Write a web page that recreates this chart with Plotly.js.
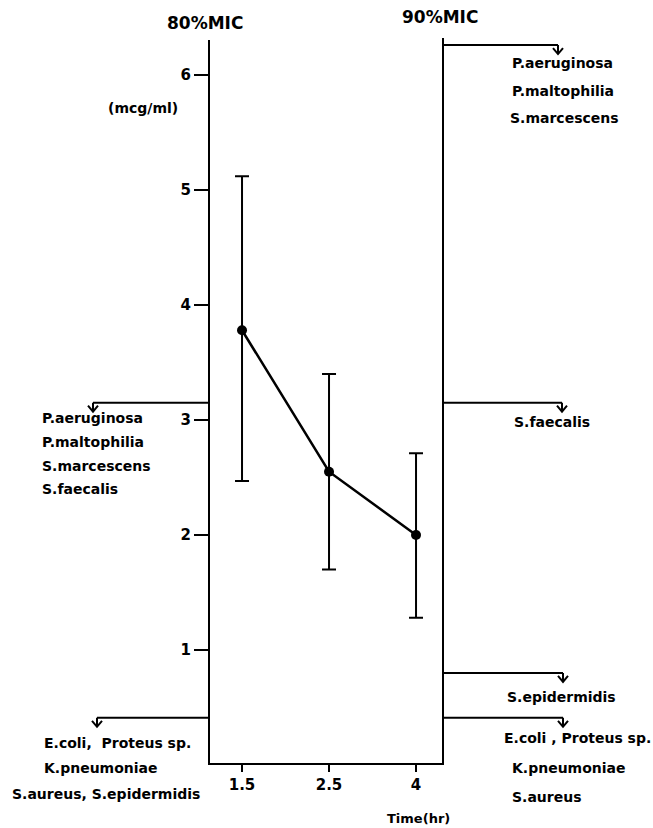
<!DOCTYPE html>
<html>
<head>
<meta charset="utf-8">
<script src="https://cdn.plot.ly/plotly-3.0.1.min.js"></script>
<style>html,body{margin:0;padding:0;background:#fff;}#chart{width:653px;height:828px;}</style>
</head>
<body>
<div id="chart"></div>
<script>
// ---- data ----
const times = ['1.5', '2.5', '4'];
const conc = [3.78, 2.55, 2.00];
const errTop = [5.12, 3.40, 2.71];
const errBottom = [2.47, 1.70, 1.28];
const yTicks = [1, 2, 3, 4, 5, 6];

const leftLevels = [3.15, 0.41];
const leftGroups = [
  ['P.aeruginosa', 'P.maltophilia', 'S.marcescens', 'S.faecalis'],
  ['E.coli,  Proteus sp.', 'K.pneumoniae', 'S.aureus, S.epidermidis']
];
const rightLevels = [6.26, 3.15, 0.80, 0.41];
const rightGroups = [
  ['P.aeruginosa', 'P.maltophilia', 'S.marcescens'],
  ['S.faecalis'],
  ['S.epidermidis'],
  ['E.coli , Proteus sp.', 'K.pneumoniae', 'S.aureus']
];

// ---- layout helpers ----
const W = 653, H = 828;
const mL = 210, mR = 210, mT = 40, mB = 65;
const pw = W - mL - mR, ph = H - mT - mB;
const yMin = 0.017, yMax = 6.304;
const FONT = 'DejaVu Sans';
const px2x = px => (px - mL) / pw;
const py2y = py => (H - mB - py) / ph;
const v2y = v => (v - yMin) / (yMax - yMin);
const v2py = v => (H - mB) - v2y(v) * ph;

// text placement (pixels): per group, arrow x, and lines [x, y]
const leftArrowX = [93, 97];
const leftTextPos = [
  [[40, 418], [40, 442], [40, 466], [40, 489]],
  [[42, 743], [42, 768], [10, 794]]
];
const rightArrowX = [558, 562, 563, 563];
const rightTextPos = [
  [[510, 63], [510, 91], [508, 118]],
  [[512, 422]],
  [[505, 697]],
  [[502, 738], [510, 768], [510, 797]]
];

const shapes = [];
const annotations = [];

function addLevel(level, axisPx, arrowPx) {
  const yl = v2py(level);
  shapes.push({type: 'line', xref: 'paper', yref: 'paper',
    x0: px2x(axisPx), x1: px2x(arrowPx), y0: py2y(yl), y1: py2y(yl),
    line: {color: '#000', width: 2}});
  const p = (x, y) => px2x(x) + ',' + py2y(y);
  shapes.push({type: 'path', xref: 'paper', yref: 'paper',
    path: 'M' + p(arrowPx, yl) + 'L' + p(arrowPx, yl + 9) +
          'M' + p(arrowPx - 5, yl + 3) + 'L' + p(arrowPx, yl + 9) + 'L' + p(arrowPx + 5, yl + 3),
    line: {color: '#000', width: 2}});
}
function addText(txt, x, y, size) {
  annotations.push({text: txt, xref: 'paper', yref: 'paper', x: px2x(x), y: py2y(y),
    xanchor: 'left', yanchor: 'middle', showarrow: false,
    font: {family: FONT, size: size || 14, color: '#000', weight: 'bold'}});
}

leftLevels.forEach((lv, i) => {
  addLevel(lv, mL, leftArrowX[i]);
  leftGroups[i].forEach((t, j) => addText(t, leftTextPos[i][j][0], leftTextPos[i][j][1]));
});
rightLevels.forEach((lv, i) => {
  addLevel(lv, mL + pw, rightArrowX[i]);
  rightGroups[i].forEach((t, j) => addText(t, rightTextPos[i][j][0], rightTextPos[i][j][1]));
});

// right vertical border
shapes.push({type: 'line', xref: 'paper', yref: 'paper', x0: 1, x1: 1, y0: py2y(765), y1: py2y(38),
  line: {color: '#000', width: 2}});

function centerText(txt, x, y, size) {
  annotations.push({text: txt, xref: 'paper', yref: 'paper', x: px2x(x), y: py2y(y),
    xanchor: 'center', yanchor: 'middle', showarrow: false,
    font: {family: FONT, size: size, color: '#000', weight: 'bold'}});
}
centerText('80%MIC', 205, 23, 17);
centerText('90%MIC', 440, 17, 17);
centerText('(mcg/ml)', 143, 108, 14);
centerText('Time(hr)', 418, 818, 13);

const trace = {
  x: times, y: conc, type: 'scatter', mode: 'lines+markers',
  line: {color: '#000', width: 2.5},
  marker: {color: '#000', size: 10},
  error_y: {type: 'data', symmetric: false,
    array: errTop.map((t, i) => t - conc[i]),
    arrayminus: conc.map((c, i) => c - errBottom[i]),
    color: '#000', thickness: 2, width: 7},
  cliponaxis: false
};

const layout = {
  width: W, height: H,
  margin: {l: mL, r: mR, t: mT, b: mB, pad: 0},
  paper_bgcolor: '#fff', plot_bgcolor: '#fff',
  showlegend: false,
  font: {family: FONT, color: '#000'},
  xaxis: {type: 'category', range: [-0.368, 2.31], showgrid: false, zeroline: false,
    showline: true, linecolor: '#000', linewidth: 2,
    ticks: 'outside', ticklen: 7, tickwidth: 2, tickcolor: '#000',
    tickfont: {family: FONT, size: 15, weight: 'bold'}, fixedrange: true},
  yaxis: {range: [yMin, yMax], showgrid: false, zeroline: false,
    showline: true, linecolor: '#000', linewidth: 2,
    tickvals: yTicks, ticktext: yTicks.map(String),
    ticks: 'outside', ticklen: 14, tickwidth: 1.5, tickcolor: '#000',
    tickfont: {family: FONT, size: 15, weight: 'bold'}, fixedrange: true},
  shapes: shapes,
  annotations: annotations
};

Plotly.newPlot('chart', [trace], layout, {staticPlot: true, displayModeBar: false});
</script>
</body>
</html>
